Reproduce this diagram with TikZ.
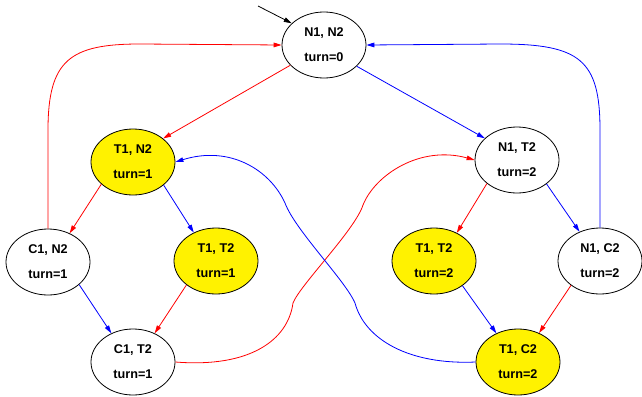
\documentclass[tikz,border=0pt]{standalone}
\usepackage{fontspec}
\setmainfont{Liberation Sans}
\usetikzlibrary{shapes.geometric,arrows.meta}
\begin{document}
\begin{tikzpicture}[x=0.75pt,y=-0.75pt,
  st/.style={ellipse,draw=black,line width=0.6pt,minimum width=63pt,minimum height=49.5pt,inner sep=0pt,align=center,font=\fontsize{9.5}{18.75}\selectfont\bfseries},
  hot/.style={st,fill=yellow},
  cold/.style={st,fill=white},
  edge/.style={line width=0.6pt,-{Triangle[length=6pt,width=3.5pt]}},
  r/.style={edge,red}, b/.style={edge,blue}, k/.style={edge,black}]
\useasboundingbox (0,0) rectangle (642,396);
\node[cold] (n1n2) at (324,45) {N1, N2\\turn=0};
\node[hot]  (t1n2) at (133,162) {T1, N2\\turn=1};
\node[cold] (n1t2) at (517,160) {N1, T2\\turn=2};
\node[cold] (c1n2) at (48,262) {C1, N2\\turn=1};
\node[hot]  (t1t2a) at (216,261) {T1, T2\\turn=1};
\node[hot]  (t1t2b) at (434,261) {T1, T2\\turn=2};
\node[cold] (n1c2) at (600,261) {N1, C2\\turn=2};
\node[cold] (c1t2) at (133,362) {C1, T2\\turn=1};
\node[hot]  (t1c2) at (518,362) {T1, C2\\turn=2};
\coordinate (init) at (258,6);
% initial
\draw[k] (init) -- (n1n2.146);
% straight edges
\draw[r] (n1n2.211.7) -- (t1n2.38);
\draw[b] (n1n2.327) -- (n1t2.146);
\draw[r] (t1n2.215.5) -- (c1n2.53.7);
\draw[b] (t1n2.323.7) -- (t1t2a.128);
\draw[b] (c1n2.324.5) -- (c1t2.127);
\draw[r] (t1t2a.219) -- (c1t2.53.7);
\draw[r] (n1t2.218.5) -- (t1t2b.51.8);
\draw[b] (n1t2.321.5) -- (n1c2.125);
\draw[b] (t1t2b.319.5) -- (t1c2.127);
\draw[r] (n1c2.220.5) -- (t1c2.54);
% curved edges
\draw[r] (c1n2.north) -- (48,130) .. controls (48,60) and (70,44) .. (140,44) -- (n1n2.west);
\draw[b] (n1c2.north) -- (600,130) .. controls (600,60) and (580,44) .. (500,44) -- (n1n2.east);
\draw[r] (c1t2.east) .. controls (250,368) and (288,340) .. (293,303)
  .. controls (300,285) and (355,230) .. (363,205)
  .. controls (375,175) and (420,145) .. (n1t2.west);
\draw[b] (t1c2.west) .. controls (410,365) and (365,340) .. (355,303)
  .. controls (345,280) and (295,230) .. (285,203)
  .. controls (270,170) and (230,145) .. (t1n2.east);
\end{tikzpicture}
\end{document}
